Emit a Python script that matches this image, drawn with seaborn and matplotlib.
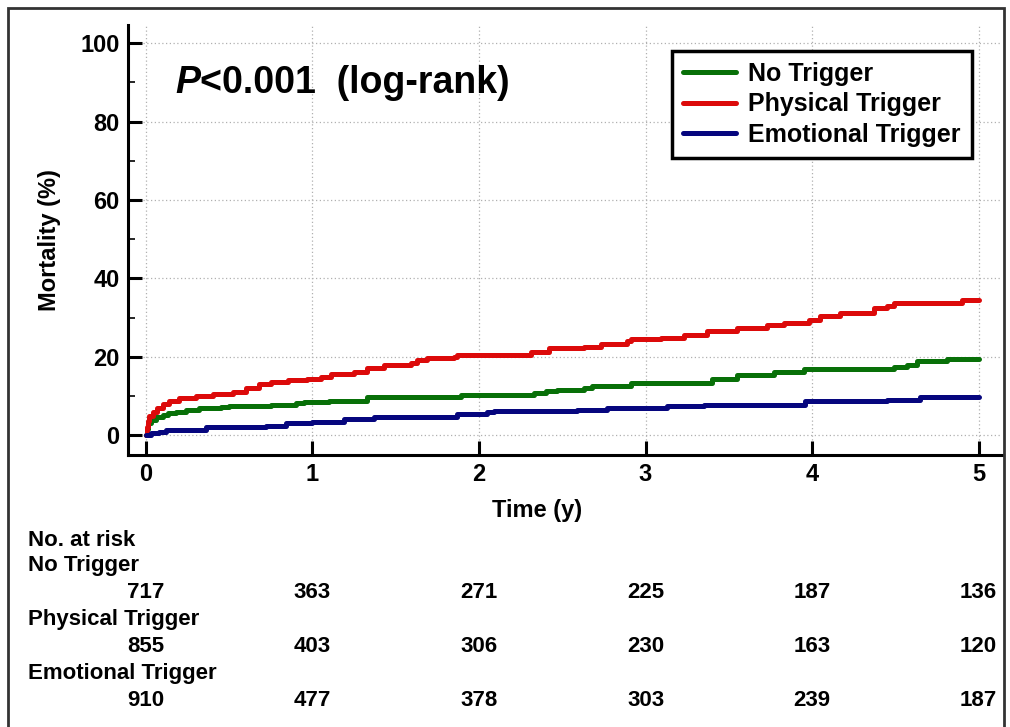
import pandas as pd
import matplotlib.pyplot as plt
import seaborn as sns
from matplotlib.lines import Line2D
from matplotlib.patches import Rectangle
from matplotlib.ticker import MultipleLocator
from matplotlib.transforms import blended_transform_factory


# Kaplan-Meier style cumulative mortality (step points)
groups = ["No Trigger", "Physical Trigger", "Emotional Trigger"]
colors = ["#087008", "#dc0a0a", "#06067e"]

no_trigger_t = [0, 0.005, 0.015, 0.03, 0.06, 0.1, 0.13, 0.18, 0.24, 0.32, 0.45, 0.5,
                0.75, 0.9, 0.95, 1.1, 1.33, 1.89, 2.33, 2.4, 2.47, 2.63, 2.68, 2.91,
                3.4, 3.55, 3.77, 3.95, 4.49, 4.57, 4.63, 4.81, 5.0]
no_trigger_v = [0, 1.5, 3.0, 3.8, 4.7, 5.2, 5.6, 6.0, 6.4, 6.9, 7.2, 7.4,
                7.7, 8.2, 8.4, 8.8, 9.7, 10.3, 10.8, 11.2, 11.6, 12.1, 12.5, 13.4,
                14.4, 15.3, 16.1, 16.8, 17.4, 18.0, 18.9, 19.4, 19.4]

physical_t = [0, 0.005, 0.01, 0.02, 0.04, 0.066, 0.1, 0.14, 0.2, 0.3, 0.4, 0.52,
              0.6, 0.68, 0.75, 0.85, 0.97, 1.05, 1.11, 1.25, 1.33, 1.43, 1.59, 1.63,
              1.69, 1.85, 1.87, 2.31, 2.42, 2.63, 2.73, 2.89, 2.91, 3.09, 3.23, 3.37,
              3.55, 3.73, 3.83, 3.98, 4.05, 4.17, 4.37, 4.45, 4.49, 4.9, 5.0]
physical_v = [0, 2.0, 3.5, 5.0, 6.0, 7.0, 8.0, 8.7, 9.4, 10.0, 10.5, 11.0,
              12.0, 13.0, 13.5, 14.0, 14.4, 14.8, 15.7, 16.1, 17.2, 17.8, 18.3, 19.1,
              19.6, 20.0, 20.4, 21.3, 22.2, 22.6, 23.2, 23.9, 24.5, 24.9, 25.6, 26.5,
              27.2, 28.0, 28.6, 29.3, 30.3, 31.2, 32.3, 32.9, 33.6, 34.4, 34.4]

emotional_t = [0, 0.03, 0.08, 0.12, 0.36, 0.72, 0.84, 1.0, 1.19, 1.37, 1.87, 2.05,
               2.09, 2.59, 2.77, 3.13, 3.35, 3.96, 4.45, 4.65, 5.0]
emotional_v = [0, 0.5, 0.9, 1.3, 2.1, 2.4, 3.0, 3.4, 4.1, 4.7, 5.3, 5.8,
               6.2, 6.5, 6.9, 7.5, 7.8, 8.6, 9.0, 9.6, 9.6]

# numbers at risk
risk_times = [0, 1, 2, 3, 4, 5]
risk_no = [717, 363, 271, 225, 187, 136]
risk_physical = [855, 403, 306, 230, 163, 120]
risk_emotional = [910, 477, 378, 303, 239, 187]

df = pd.concat([
    pd.DataFrame({"time": no_trigger_t, "mortality": no_trigger_v, "group": groups[0]}),
    pd.DataFrame({"time": physical_t, "mortality": physical_v, "group": groups[1]}),
    pd.DataFrame({"time": emotional_t, "mortality": emotional_v, "group": groups[2]}),
])

sns.set_style("ticks")
plt.rcParams["font.family"] = ["Liberation Sans", "DejaVu Sans"]
plt.rcParams["font.weight"] = "bold"
plt.rcParams["text.color"] = "black"
plt.rcParams["axes.labelcolor"] = "black"
plt.rcParams["xtick.color"] = "black"
plt.rcParams["ytick.color"] = "black"

fig = plt.figure(figsize=(10.1, 7.27), dpi=100)
ax = fig.add_axes([0.1267, 0.374, 0.8653, 0.5915])

ax.grid(True, which="major", linestyle=(0, (1, 2)), color="#b0b0b0", linewidth=0.9)
ax.set_axisbelow(True)

sns.lineplot(data=df, x="time", y="mortality", hue="group", hue_order=groups,
             palette=colors, drawstyle="steps-post", estimator=None,
             linewidth=3.6, legend=False, ax=ax)

ax.set_xlim(-0.108, 5.14)
ax.set_ylim(-5.1, 104.6)
ax.set_xticks(range(6))
ax.set_yticks(range(0, 101, 20))
ax.yaxis.set_minor_locator(MultipleLocator(10))

for side in ["top", "right"]:
    ax.spines[side].set_visible(False)
for side in ["left", "bottom"]:
    ax.spines[side].set_linewidth(2.2)
    ax.spines[side].set_color("black")

ax.tick_params(which="major", direction="in", length=10, width=2.2,
               labelsize=17, pad=6, left=True, bottom=True, colors="black")
ax.tick_params(axis="y", which="minor", direction="in", length=5, width=1.2, left=True)
ax.tick_params(axis="x", which="minor", bottom=False)
for lab in ax.get_xticklabels() + ax.get_yticklabels():
    lab.set_fontweight("bold")

ax.set_xlabel("Time (y)", fontsize=17, fontweight="bold")
ax.xaxis.set_label_coords(0.468, -0.103)
ax.set_ylabel("Mortality (%)", fontsize=17, fontweight="bold", labelpad=14)

# P value annotation
ptxt = ax.text(0.174, 87.2, "P", fontsize=27, fontweight="bold", style="italic",
               va="baseline", ha="left")
ax.annotate("<0.001  (log-rank)", xy=(1, 0), xycoords=ptxt, va="bottom", ha="left",
            fontsize=27, fontweight="bold")

handles = [Line2D([0], [0], color=c, lw=3.6, solid_capstyle="round") for c in colors]
leg = ax.legend(handles, groups, loc="upper right", bbox_to_anchor=(0.9657, 0.94),
                frameon=True, fancybox=False, edgecolor="black", framealpha=1,
                prop={"size": 18, "weight": "bold"}, handlelength=2.1,
                handletextpad=0.5, labelspacing=0.25, borderpad=0.45, borderaxespad=0)
leg.get_frame().set_linewidth(2.5)

# number at risk table
trans = blended_transform_factory(ax.transData, fig.transFigure)
H = 727.0
fig.text(28 / 1010, 1 - 540 / H, "No. at risk", fontsize=16, fontweight="bold", va="center")
rows = [("No Trigger", risk_no, 565, 593),
        ("Physical Trigger", risk_physical, 620, 647),
        ("Emotional Trigger", risk_emotional, 674, 701)]
for name, vals, y_name, y_num in rows:
    fig.text(28 / 1010, 1 - y_name / H, name, fontsize=16, fontweight="bold", va="center")
    for t, n in zip(risk_times, vals):
        ax.text(t, 1 - y_num / H, str(n), transform=trans, fontsize=16,
                fontweight="bold", ha="center", va="center")

# outer frame of the figure
fig.add_artist(Rectangle((8 / 1010, -0.02), 996 / 1010, 1.02 - 8 / H, transform=fig.transFigure,
                         fill=False, linewidth=2, edgecolor="#333333"))

fig.savefig("out.png", dpi=100)
